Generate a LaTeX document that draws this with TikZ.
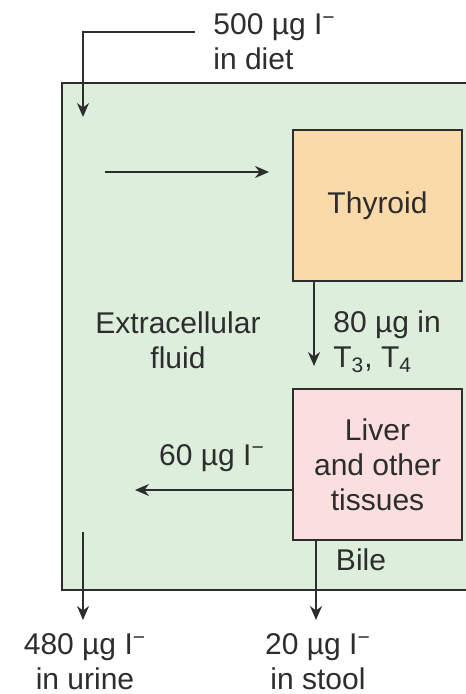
\documentclass[tikz,border=0pt]{standalone}
\usepackage{fontspec}
\setmainfont{Liberation Sans}
\usepackage{tikz}
\usetikzlibrary{arrows.meta}
\definecolor{ecfgreen}{RGB}{221,238,221}
\definecolor{thyrorange}{RGB}{251,218,170}
\definecolor{liverpink}{RGB}{251,223,223}
\definecolor{inkgray}{RGB}{45,45,45}

\begin{document}
\begin{tikzpicture}[x=0.5pt, y=-0.5pt, font=\fontsize{15}{17.5}\selectfont, text=inkgray,
  organ/.style={draw=inkgray, line width=1pt, minimum width=84.5pt, minimum height=75.5pt, align=center},
  flow/.style={draw=inkgray, line width=0.9pt, -{Stealth[length=7pt, width=6pt]}},
  lbl/.style={align=center, inner sep=0pt}]
  \useasboundingbox (0,0) rectangle (465,694);
  \fill[ecfgreen] (62,83) rectangle (466,590);
  \draw[inkgray, line width=1pt] (466,83) -- (62,83) -- (62,590) -- (466,590);
  \node[organ, fill=thyrorange] (thyroid) at (377.5,206) {Thyroid};
  \node[organ, fill=liverpink] (liver) at (377.5,464.5) {Liver\\and other\\tissues};
  \node[lbl, align=left, anchor=west] (diet) at (213,42) {500 µg I\textsuperscript{−}\\in diet};
  \node[lbl] (ecf) at (178,340) {Extracellular\\fluid};
  \node[lbl, align=left, anchor=west] (hormone) at (333,342) {80 µg in\\T\textsubscript{3}, T\textsubscript{4}};
  \node[lbl] (bile) at (361,560) {Bile};
  \node[lbl] (recycle) at (212,458) {60 µg I\textsuperscript{−}};
  \node[lbl] (urine) at (85,662) {480 µg I\textsuperscript{−}\\in urine};
  \node[lbl] (stool) at (318,662) {20 µg I\textsuperscript{−}\\in stool};
  \coordinate (dietstart) at (195,32); \coordinate (dietend) at (83,117);
  \coordinate (uptake) at (105,172); \coordinate (recycleend) at (135,490);
  \coordinate (urinestart) at (83,532);
  \draw[flow] (dietstart) -| (dietend);
  \draw[flow, shorten >=11.5pt] (uptake) -- (uptake -| thyroid.west);
  \draw[flow, shorten >=11pt] ([xshift=11pt]thyroid.south west) -- ([xshift=11pt]liver.north west);
  \draw[flow] (recycleend -| liver.west) -- (recycleend);
  \draw[flow] (urinestart) -- (urinestart |- 0,620);
  \draw[flow] ([xshift=12pt]liver.south west) -- ([xshift=12pt]liver.south west |- 0,620);
\end{tikzpicture}
\end{document}
